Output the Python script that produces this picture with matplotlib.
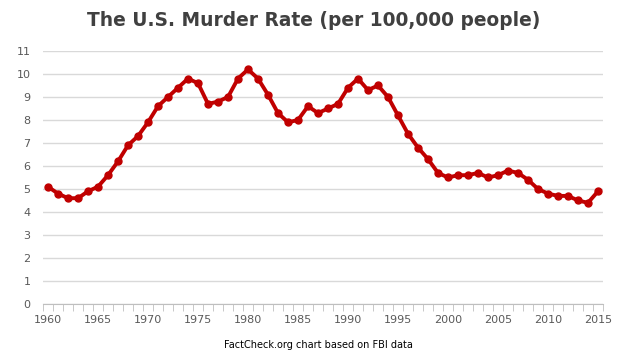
import numpy as np
import matplotlib.pyplot as plt

years = list(range(1960, 2016))
rate = [5.1, 4.8, 4.6, 4.6, 4.9, 5.1, 5.6, 6.2, 6.9, 7.3,
        7.9, 8.6, 9.0, 9.4, 9.8, 9.6, 8.7, 8.8, 9.0, 9.8,
        10.2, 9.8, 9.1, 8.3, 7.9, 8.0, 8.6, 8.3, 8.5, 8.7,
        9.4, 9.8, 9.3, 9.5, 9.0, 8.2, 7.4, 6.8, 6.3, 5.7,
        5.5, 5.6, 5.6, 5.7, 5.5, 5.6, 5.8, 5.7, 5.4, 5.0,
        4.8, 4.7, 4.7, 4.5, 4.4, 4.9]
label_years = list(range(1960, 2020, 5))
yticks = list(range(0, 12))

fig = plt.figure(figsize=(6.28, 3.55), dpi=100)
ax = fig.add_axes([43/628, 1-304/355, 560/628, 253/355])

for v in yticks:
    ax.axhline(v, color="#d9d9d9", lw=1, zorder=0)
ax.plot(years, rate, color="#c00000", lw=2.8, marker="o", ms=5, zorder=3)

ax.set_xlim(1959.5, 2015.5)
ax.set_ylim(0, 11)
ax.set_yticks(yticks)
ax.set_xticks(label_years)
ax.set_xticks(np.arange(1959.5, 2016, 1), minor=True)
ax.tick_params(axis="x", which="major", length=0, pad=8, labelsize=8, labelcolor="#595959")
ax.tick_params(axis="x", which="minor", length=5, color="#bfbfbf", direction="out")
ax.tick_params(axis="y", length=0, pad=9, labelsize=8, labelcolor="#595959")
for s in ["top", "right", "left"]:
    ax.spines[s].set_visible(False)
ax.spines["bottom"].set_color("#bfbfbf")

fig.text(0.5, 1-21/355, "The U.S. Murder Rate (per 100,000 people)", ha="center", va="center",
         fontsize=13.4, fontweight="bold", color="#404040")
fig.text(0.507, 1-345/355, "FactCheck.org chart based on FBI data", ha="center", va="center",
         fontsize=7, color="black")

fig.savefig("out.png", dpi=100)
